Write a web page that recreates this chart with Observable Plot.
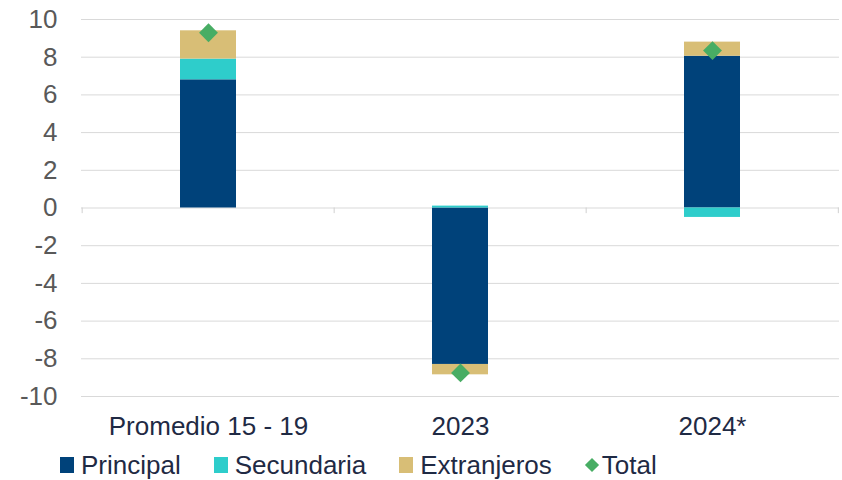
<!DOCTYPE html>
<html>
<head>
<meta charset="utf-8">
<script src="https://cdn.jsdelivr.net/npm/d3@7"></script>
<script src="https://cdn.jsdelivr.net/npm/@observablehq/plot@0.6"></script>
<style>
  html, body { margin: 0; padding: 0; background: #fff; }
  body { width: 842px; height: 480px; overflow: hidden; font-family: "Liberation Sans", Arial, sans-serif; }
  #legend { display: flex; align-items: center; height: 40px; margin-top: 5px; padding-left: 60px; font-size: 26px; color: #1F2A44; }
  #legend .item { display: flex; align-items: center; margin-right: 33px; }
  #legend .sw { width: 14px; height: 16px; margin-right: 7px; }
  #legend .dia { width: 10px; height: 10px; transform: rotate(45deg); margin: 0 5px 0 2px; }
</style>
</head>
<body>
<div id="chart"></div>
<div id="legend"></div>
<script>
const categories = ["Promedio 15 - 19", "2023", "2024*"];
const principal = [6.8, -8.3, 8.05];
const secundaria = [1.1, 0.1, -0.5];
const extranjeros = [1.5, -0.55, 0.75];
const total = [9.3, -8.75, 8.35];
const seriesNames = ["Principal", "Secundaria", "Extranjeros"];
const seriesColors = ["#00427A", "#2ECDCB", "#D8BE76"];
const totalColor = "#48AD64";
const yTicks = [-10, -8, -6, -4, -2, 0, 2, 4, 6, 8, 10];

const rows = [];
[principal, secundaria, extranjeros].forEach((vals, s) => {
  categories.forEach((c, i) => rows.push({cat: c, serie: seriesNames[s], value: vals[i]}));
});
const totals = categories.map((c, i) => ({cat: c, value: total[i]}));

const W = 842, mL = 81, mR = 3;
const step = (W - mL - mR) / categories.length;

const plot = Plot.plot({
  width: W,
  height: 440,
  marginLeft: mL,
  marginRight: mR,
  marginTop: 19,
  marginBottom: 44,
  style: {fontFamily: "'Liberation Sans', Arial, sans-serif", background: "#fff"},
  x: {domain: categories, paddingInner: 0.778, paddingOuter: 0.389, label: null},
  y: {domain: [-10, 10], ticks: yTicks, label: null},
  color: {domain: seriesNames, range: seriesColors},
  marks: [
    Plot.ruleY(yTicks, {stroke: "#D9D9D9", strokeWidth: 1}),
    Plot.ruleX(categories, {x: d => d, y1: 0, y2: -0.3, dx: -step / 2, stroke: "#D0D0D0"}),
    Plot.ruleX([categories[categories.length - 1]], {x: d => d, y1: 0, y2: -0.3, dx: step / 2 - 0.5, stroke: "#D0D0D0"}),
    Plot.barY(rows, Plot.stackY({x: "cat", y: "value", fill: "serie", order: null})),
    Plot.dot(totals, {x: "cat", y: "value", symbol: "diamond2", r: 8.5, fill: totalColor, stroke: null}),
    Plot.axisY({ticks: yTicks, tickSize: 0, tickPadding: 24, fontSize: 26, fill: "#595959", label: null, tickFormat: d => String(d)}),
    Plot.axisX({tickSize: 0, tickPadding: 20, fontSize: 26, fill: "#1F2A44", label: null})
  ]
});
document.getElementById("chart").appendChild(plot);

const legend = document.getElementById("legend");
seriesNames.forEach((n, i) => {
  const it = document.createElement("div");
  it.className = "item";
  it.innerHTML = `<div class="sw" style="background:${seriesColors[i]}"></div><span>${n}</span>`;
  legend.appendChild(it);
});
const t = document.createElement("div");
t.className = "item";
t.innerHTML = `<div class="dia" style="background:${totalColor}"></div><span>Total</span>`;
legend.appendChild(t);
</script>
</body>
</html>
